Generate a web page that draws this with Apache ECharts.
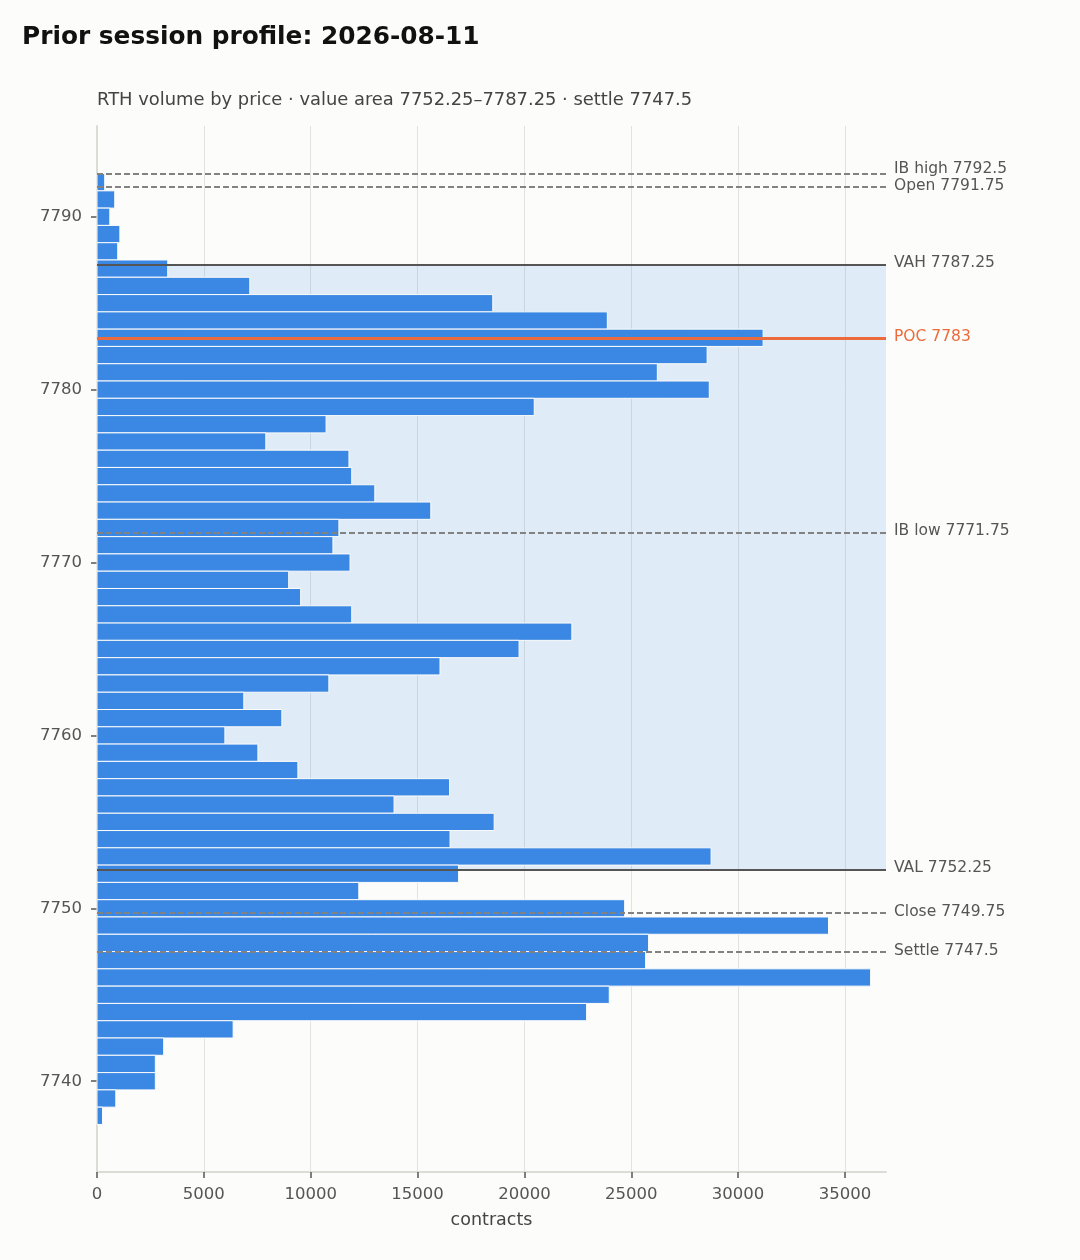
<!DOCTYPE html>
<html>
<head>
<meta charset="utf-8">
<title>Prior session profile</title>
<script src="https://cdn.jsdelivr.net/npm/echarts@6/dist/echarts.min.js"></script>
<style>
  html, body { margin: 0; padding: 0; background: #fcfcfa; }
  #chart { width: 1080px; height: 1260px; }
</style>
</head>
<body>
<div id="chart"></div>
<script>
// price levels, top to bottom (1 point rows)
var prices = [7792, 7791, 7790, 7789, 7788, 7787, 7786, 7785, 7784, 7783,
	7782, 7781, 7780, 7779, 7778, 7777, 7776, 7775, 7774, 7773,
	7772, 7771, 7770, 7769, 7768, 7767, 7766, 7765, 7764, 7763,
	7762, 7761, 7760, 7759, 7758, 7757, 7756, 7755, 7754, 7753,
	7752, 7751, 7750, 7749, 7748, 7747, 7746, 7745, 7744, 7743,
	7742, 7741, 7740, 7739, 7738];
// RTH volume at each price
var volumes = [360, 830, 600, 1070, 970, 3310, 7150, 18520, 23880, 31170,
	28550, 26220, 28650, 20460, 10720, 7900, 11790, 11920, 13000, 15620,
	11320, 11040, 11840, 8970, 9530, 11920, 22220, 19750, 16050, 10850,
	6870, 8650, 5985, 7530, 9400, 16500, 13900, 18585, 16520, 28735,
	16920, 12250, 24690, 34230, 25810, 25670, 36200, 23970, 22910, 6370,
	3120, 2730, 2730, 880, 260];

// reference levels
var levelNames = ['IB high', 'Open', 'VAH', 'POC', 'IB low', 'VAL', 'Close', 'Settle'];
var levelPrices = [7792.5, 7791.75, 7787.25, 7783, 7771.75, 7752.25, 7749.75, 7747.5];
var levelKinds = ['dash', 'dash', 'va', 'poc', 'dash', 'va', 'dash', 'dash'];

var valueArea = [7752.25, 7787.25];
var priceTicks = [7740, 7750, 7760, 7770, 7780, 7790];
var volumeTicks = [0, 5000, 10000, 15000, 20000, 25000, 30000, 35000];

var BAR = '#3b88e4';
var BG = '#fcfcfa';

(function () {
	var chart = echarts.init(document.getElementById('chart'));

	var barData = [];
	for (var i = 0; i < prices.length; i++) {
		barData.push([volumes[i], prices[i]]);
	}

	// marker lines with labels on the right
	var lineStyles = {
		dash: { color: '#828282', width: 1.8, type: [6, 3] },
		va: { color: '#555555', width: 2, type: 'solid' },
		poc: { color: '#ec6a3c', width: 2.8, type: 'solid' }
	};
	var lineData = [];
	for (var k = 0; k < levelNames.length; k++) {
		var kind = levelKinds[k];
		lineData.push({
			yAxis: levelPrices[k],
			lineStyle: lineStyles[kind],
			label: {
				formatter: levelNames[k] + ' ' + levelPrices[k],
				color: kind == 'poc' ? '#ec6a3c' : '#555555',
				offset: k == 0 ? [0, -5] : [0, -1]
			}
		});
	}

	// vertical grid, no line at the right edge
	var gridColors = [];
	for (var g = 0; g < volumeTicks.length; g++) gridColors.push('#e2e2de');
	gridColors.push('rgba(0,0,0,0)');

	var plain = function (v) { return String(v); };

	var option = {
		backgroundColor: BG,
		animation: false,
		textStyle: { fontFamily: 'DejaVu Sans' },
		title: [{
			text: 'Prior session profile: 2026-08-11',
			left: 22, top: 25, padding: 0,
			textStyle: { fontSize: 24.8, fontWeight: 'bold', color: '#111111', fontFamily: 'DejaVu Sans' }
		}, {
			text: 'RTH volume by price · value area ' + valueArea[0] + '–' + valueArea[1] + ' · settle 7747.5',
			left: 97, top: 91, padding: 0,
			textStyle: { fontSize: 17.9, fontWeight: 'normal', color: '#444444', fontFamily: 'DejaVu Sans' }
		}],
		grid: { left: 97, right: 194, top: 126, bottom: 88 },
		xAxis: {
			type: 'value',
			min: 0, max: 36920, interval: 5000,
			name: 'contracts', nameLocation: 'middle', nameGap: 39,
			nameTextStyle: { fontSize: 17.5, color: '#444444' },
			axisLine: { show: true, lineStyle: { color: '#dcdcd6', width: 2 } },
			axisTick: { show: true, length: 6, customValues: volumeTicks, lineStyle: { color: '#555555', width: 1.5 } },
			axisLabel: { customValues: volumeTicks, formatter: plain, fontSize: 16.5, color: '#555555', margin: 14 },
			splitLine: { show: true, lineStyle: { color: gridColors, width: 1 } }
		},
		yAxis: {
			type: 'value',
			min: 7734.75, max: 7795.25,
			axisLine: { show: true, lineStyle: { color: '#dcdcd6', width: 2 } },
			axisTick: { show: true, length: 6, customValues: priceTicks, lineStyle: { color: '#555555', width: 1.5 } },
			axisLabel: { customValues: priceTicks, formatter: plain, fontSize: 16.5, color: '#555555', margin: 15 },
			splitLine: { show: false }
		},
		series: [{
			// value area shading
			type: 'line',
			data: [],
			z: 1,
			silent: true,
			markArea: {
				silent: true,
				itemStyle: { color: 'rgba(52,132,235,0.14)' },
				data: [[{ yAxis: valueArea[0] }, { yAxis: valueArea[1] }]]
			}
		}, {
			type: 'custom',
			z: 2,
			data: barData,
			encode: { x: 0, y: 1 },
			renderItem: function (params, api) {
				var p = api.value(1);
				var v = api.value(0);
				var a = api.coord([0, p]);
				var b = api.coord([v, p]);
				var h = api.size([0, 1])[1];
				return {
					type: 'rect',
					shape: { x: a[0], y: a[1] - h / 2, width: b[0] - a[0], height: h },
					style: { fill: BAR, stroke: BG, lineWidth: 1 }
				};
			}
		}, {
			type: 'line',
			data: [],
			z: 3,
			silent: true,
			markLine: {
				silent: true,
				symbol: ['none', 'none'],
				label: { show: true, position: 'end', distance: 8, fontSize: 15.5 },
				data: lineData
			}
		}]
	};
	chart.setOption(option);
})();
</script>
</body>
</html>
